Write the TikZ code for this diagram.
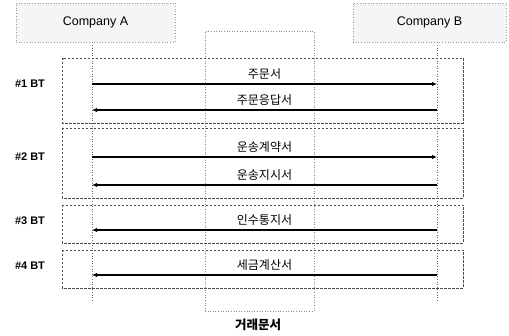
\documentclass[tikz,border=0pt]{standalone}
\usepackage{fontspec}
\setmainfont{Liberation Sans}
\newfontfamily\kr{Noto Sans CJK KR}
\usetikzlibrary{arrows.meta}
\begin{document}
\begin{tikzpicture}[x=1pt,y=-1pt,
  compbox/.style={draw=gray!80,dotted,fill=gray!8,line width=0.7pt},
  btbox/.style={draw=black!70,dash pattern=on 2.5pt off 1.5pt,line width=0.5pt},
  lifeline/.style={draw=black!60,dotted,line width=0.6pt},
  centerline/.style={draw=black!45,dotted,line width=0.6pt},
  msg/.style={line width=1.8pt,-{Latex[length=5pt,width=4.5pt]}},
  msglabel/.style={font=\kr\fontsize{12}{14}\selectfont,above=0pt},
  btlabel/.style={font=\bfseries\fontsize{11}{13}\selectfont}]
\useasboundingbox (0,0) rectangle (509,336);
% center document area
\draw[centerline] (205,311) -- (205,31) -- (314,31) -- (314,311);
\draw[centerline] (205,311) -- (314,311);
% BT boxes
\draw[btbox] (62,58) rectangle (463,123);
\draw[btbox] (62,128) rectangle (463,198);
\draw[btbox] (62,205) rectangle (463,243);
\draw[btbox] (62,250) rectangle (463,288);
% company boxes
\node[compbox,minimum width=159pt,minimum height=39pt,inner sep=0pt] (compA) at (95.5,22.5) {\fontsize{12.5}{14}\selectfont Company A};
\node[compbox,minimum width=153pt,minimum height=39pt,inner sep=0pt] (compB) at (429.5,22.5) {\fontsize{12.5}{14}\selectfont Company B};
% lifelines
\coordinate (endA) at (92,300);
\coordinate (endB) at (437,300);
\draw[lifeline] (compA.south -| endA) -- (endA);
\draw[lifeline] (compB.south -| endB) -- (endB);
% message coordinates
\foreach \i/\y in {1/84,2/110,3/157,4/185,5/230,6/275}{
  \coordinate (a\i) at (92,\y);
  \coordinate (b\i) at (437,\y);
}
\draw[msg] (a1) -- (b1) node[midway,msglabel] {주문서};
\draw[msg] (b2) -- (a2) node[midway,msglabel] {주문응답서};
\draw[msg] (a3) -- (b3) node[midway,msglabel] {운송계약서};
\draw[msg] (b4) -- (a4) node[midway,msglabel] {운송지시서};
\draw[msg] (b5) -- (a5) node[midway,msglabel] {인수통지서};
\draw[msg] (b6) -- (a6) node[midway,msglabel] {세금계산서};
% BT labels
\node[btlabel] (bt1) at (30,84) {\#1 BT};
\node[btlabel] (bt2) at (30,157) {\#2 BT};
\node[btlabel] (bt3) at (30,221) {\#3 BT};
\node[btlabel] (bt4) at (30,266) {\#4 BT};
% bottom label
\node[font=\kr\bfseries\fontsize{12.5}{14}\selectfont] (doc) at (258,325) {거래문서};
\end{tikzpicture}
\end{document}
